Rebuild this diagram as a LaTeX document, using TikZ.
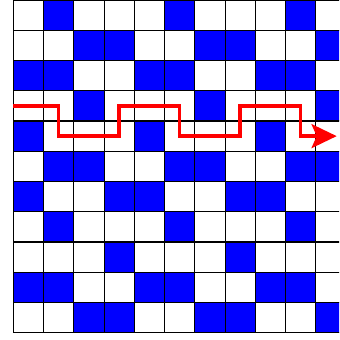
\documentclass[tikz,border=0pt]{standalone}
\usepackage{tikz}
\usetikzlibrary{arrows.meta}
\definecolor{cellblue}{HTML}{0000FF}
\definecolor{routered}{HTML}{FF0000}

\begin{document}
\begin{tikzpicture}[
  gridline/.style={draw=black, line width=1pt},
  bluecell/.style={fill=cellblue},
  route/.style={draw=routered, line width=3.2pt,
    -{Stealth[length=0.83cm, width=0.79cm, inset=0.17cm]}}
]
\useasboundingbox (-0.44,0) rectangle (10.77,-11.24);
\clip (-0.44,0.1) rectangle (10.77,-11.24);

% Blue cells, row by row (columns counted from the left)
\foreach \row/\cols in {1/{2,6,10}, 2/{3,4,7,8,11}, 3/{1,2,5,6,9,10},
    4/{3,7,11}, 5/{1,5,9}, 6/{2,3,6,7,10,11}, 7/{1,4,5,8,9},
    8/{2,6,10}, 9/{4,8}, 10/{1,2,5,6,9,10}, 11/{3,4,7,8,11}}{
  \foreach \col in \cols
    \fill[bluecell] (\col-1,1-\row) rectangle (\col,-\row);
}

% Grid
\draw[gridline] (0,0) grid (11,-11);

% Red route
\coordinate (start) at (0,-3.5);
\coordinate (finish) at (10.69,-4.5);
\draw[route] (start) -| (1.5,-4.5) -| (3.5,-3.5) -| (5.5,-4.5)
  -| (7.5,-3.5) -| (9.5,-4.5) -- (finish);
\end{tikzpicture}
\end{document}
